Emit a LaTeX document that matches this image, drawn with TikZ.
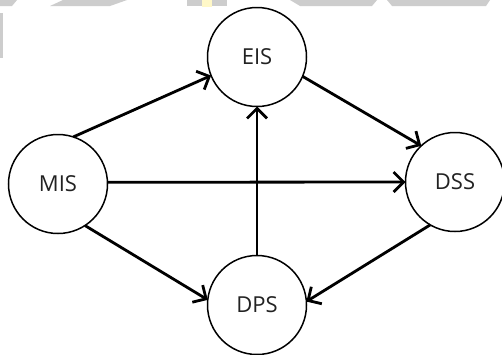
\documentclass[tikz,border=0pt]{standalone}
\usepackage{fontspec}
\setmainfont{Open Sans}
\usetikzlibrary{arrows.meta}
\definecolor{bandgrey}{HTML}{CDCDCD}
\definecolor{bandyellow}{HTML}{FFF8C8}
\definecolor{labelgrey}{HTML}{222222}
\tikzset{
  sysnode/.style={circle, draw=black, line width=1.5pt, minimum size=99pt,
    inner sep=0pt, outer sep=0pt, fill=white,
    font=\fontsize{22pt}{22pt}\selectfont, text=labelgrey},
  flow/.style={line width=2.8pt, -{Straight Barb[length=10pt,width=20pt,line width=2.8pt]}},
  band/.style={fill=bandgrey, draw=none}
}
\begin{document}
\begin{tikzpicture}[x=1pt,y=-1pt]
  \useasboundingbox (0,0) rectangle (502,354);
  \fill[white] (0,0) rectangle (502,354);

  % light band along the top edge
  \fill[band] (0,0) -- (17,0) -- (12,6) -- (0,6) -- cycle;
  \fill[band] (0,13) rectangle (3,58);
  \fill[band] (63,0) -- (127,0) -- (110,6) -- (50,6) -- cycle;
  \fill[band] (187,0) rectangle (227,6);
  \fill[bandyellow] (202,0) rectangle (212,7);
  \fill[band] (290,0) -- (377,0) -- (372,6) -- (300,6) -- cycle;
  \fill[band] (387,0) -- (490,0) -- (486,6) -- (392,6) -- cycle;

  % systems
  \node[sysnode] (eis) at (257,57)  {EIS};
  \node[sysnode] (mis) at (58,184)  {MIS};
  \node[sysnode] (dss) at (455,182) {DSS};
  \node[sysnode] (dps) at (257,305) {DPS};

  % information flows
  \draw[flow] (mis.72)  -- (eis.202);
  \draw[flow] (eis.-23) -- (dss.133);
  \draw[flow] (mis.2)   -- (dss.180);
  \draw[flow] (dps.90)  -- (eis.270);
  \draw[flow] (mis.-57) -- (dps.174);
  \draw[flow] (dss.240) -- (dps.4);
\end{tikzpicture}
\end{document}
